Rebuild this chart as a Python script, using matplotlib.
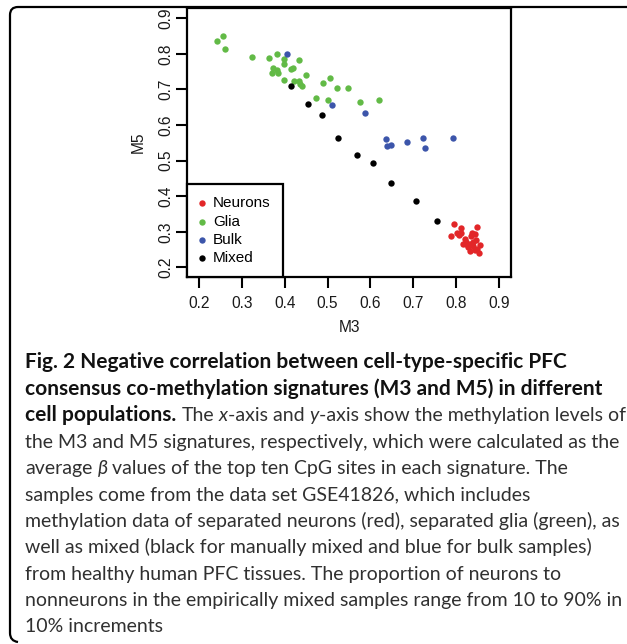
import matplotlib
matplotlib.use("Agg")

import matplotlib.pyplot as plt
from matplotlib.path import Path
from matplotlib.patches import PathPatch

# ---- data (M3, M5) ----
neurons_m3 = [0.794, 0.811, 0.849, 0.789, 0.803, 0.812, 0.806, 0.836, 0.845, 0.835,
              0.820, 0.847, 0.817, 0.824, 0.832, 0.856, 0.828, 0.840, 0.849, 0.832,
              0.853, 0.823, 0.840, 0.844]
neurons_m5 = [0.321, 0.311, 0.314, 0.289, 0.296, 0.296, 0.292, 0.298, 0.294, 0.289,
              0.280, 0.276, 0.267, 0.265, 0.267, 0.263, 0.258, 0.260, 0.251, 0.247,
              0.241, 0.270, 0.272, 0.250]

glia_m3 = [0.243, 0.257, 0.261, 0.324, 0.364, 0.381, 0.398, 0.398, 0.434, 0.373,
           0.381, 0.370, 0.384, 0.415, 0.420, 0.398, 0.422, 0.434, 0.436, 0.441,
           0.449, 0.506, 0.489, 0.523, 0.547, 0.473, 0.502, 0.575, 0.621]
glia_m5 = [0.836, 0.850, 0.815, 0.790, 0.788, 0.800, 0.786, 0.772, 0.784, 0.760,
           0.755, 0.746, 0.747, 0.757, 0.760, 0.727, 0.725, 0.725, 0.715, 0.711,
           0.741, 0.731, 0.718, 0.705, 0.704, 0.675, 0.670, 0.666, 0.670]

bulk_m3 = [0.406, 0.511, 0.587, 0.637, 0.639, 0.649, 0.685, 0.722, 0.728, 0.793]
bulk_m5 = [0.800, 0.656, 0.635, 0.561, 0.542, 0.545, 0.553, 0.564, 0.536, 0.564]

mixed_m3 = [0.415, 0.455, 0.488, 0.524, 0.569, 0.607, 0.648, 0.706, 0.756]
mixed_m5 = [0.710, 0.660, 0.628, 0.565, 0.516, 0.494, 0.438, 0.386, 0.330]

x_ticks = [0.2, 0.3, 0.4, 0.5, 0.6, 0.7, 0.8, 0.9]
y_ticks = [0.2, 0.3, 0.4, 0.5, 0.6, 0.7, 0.8, 0.9]

RED, GREEN, BLUE, BLACK = "#E22628", "#62BA46", "#3C55AA", "#000000"

W, H = 627, 644
fig = plt.figure(figsize=(W / 100, H / 100), dpi=100)
fig.patch.set_facecolor("white")

# axes box in pixel coords (left, top, right, bottom)
L, T, R, B = 187, 8, 511, 277
ax = fig.add_axes([L / W, 1 - B / H, (R - L) / W, (B - T) / H])

AX_FONT = "Liberation Sans"
DOT = 21

ax.scatter(neurons_m3, neurons_m5, s=DOT, c=RED, linewidths=0, label="Neurons", zorder=3)
ax.scatter(glia_m3, glia_m5, s=DOT, c=GREEN, linewidths=0, label="Glia", zorder=3)
ax.scatter(bulk_m3, bulk_m5, s=DOT, c=BLUE, linewidths=0, label="Bulk", zorder=3)
ax.scatter(mixed_m3, mixed_m5, s=DOT, c=BLACK, linewidths=0, label="Mixed", zorder=3)

ax.set_xlim(0.172, 0.928)
ax.set_ylim(0.173, 0.929)
ax.set_xticks(x_ticks)
ax.set_yticks(y_ticks)
ax.set_xticklabels([f"{v:.1f}" for v in x_ticks], family=AX_FONT, fontsize=11.2, color="#1a1a1a")
ax.set_yticklabels([f"{v:.1f}" for v in y_ticks], family=AX_FONT, fontsize=11.2, color="#1a1a1a",
                   rotation=90, va="center")
ax.tick_params(axis="both", length=8, width=1.5, direction="out")
ax.tick_params(axis="x", pad=6)
ax.tick_params(axis="y", pad=2)
for sp in ax.spines.values():
    sp.set_linewidth(1.6)

ax.set_xlabel("M3", family=AX_FONT, fontsize=11.2, color="#1a1a1a", labelpad=6)
ax.set_ylabel("M5", family=AX_FONT, fontsize=11.2, color="#1a1a1a", labelpad=9)

leg = ax.legend(loc="lower left", bbox_to_anchor=(0, 0), borderaxespad=0,
                fancybox=False, edgecolor="black", framealpha=1,
                prop={"family": AX_FONT, "size": 11},
                handlelength=0.3, handletextpad=0.6, borderpad=0.8,
                labelspacing=0.27, scatterpoints=1)
leg.get_frame().set_linewidth(1.6)

# ---- outer panel frame: top + left edges with rounded corners ----
def px(x, y):
    return (x, H - y)

r = 8
fx, fy0, fy1 = 10, 7, 641
verts = [px(W + 2, fy0), px(fx + r, fy0), px(fx, fy0), px(fx, fy0 + r),
         px(fx, fy1 - r), px(fx, fy1), px(fx + r, fy1 + 1)]
codes = [Path.MOVETO, Path.LINETO, Path.CURVE3, Path.CURVE3,
         Path.LINETO, Path.CURVE3, Path.CURVE3]
frame = PathPatch(Path(verts, codes), facecolor="none", edgecolor="black", lw=1.6,
                  transform=None, zorder=10)
fig.patches.append(frame)

# ---- caption ----
CAP_FONT = ["Lato", "DejaVu Sans"]
renderer = fig.canvas.get_renderer()


def text_width(s, size, **kw):
    t = fig.text(0, 0, s, fontsize=size, family=CAP_FONT, **kw)
    w = t.get_window_extent(renderer).width
    t.remove()
    return w


BODY = dict(weight="normal", color="#303030")
BOLD = dict(weight="bold", color="#111111")

body_size = 10 * 593 / text_width(
    "the M3 and M5 signatures, respectively, which were calculated as the", 10, **BODY)
bold_size = 10 * 577 / text_width(
    "consensus co-methylation signatures (M3 and M5) in different", 10, **BOLD)


def space_width(kind):
    size = bold_size if kind == "b" else body_size
    kw = BOLD if kind == "b" else BODY
    return text_width("a a", size, **kw) - text_width("aa", size, **kw)


# each run: (text, kind, extra style, space after)
caption = [
    [("Fig. 2 Negative correlation between cell-type-specific PFC", "b", {}, False)],
    [("consensus co-methylation signatures (M3 and M5) in different", "b", {}, False)],
    [("cell populations.", "b", {}, True), ("The", "n", {}, True),
     ("x", "n", {"style": "italic"}, False), ("-axis and", "n", {}, True),
     ("y", "n", {"style": "italic"}, False),
     ("-axis show the methylation levels of", "n", {}, False)],
    [("the M3 and M5 signatures, respectively, which were calculated as the", "n", {}, False)],
    [("average", "n", {}, True), ("\u03b2", "n", {"style": "italic"}, True),
     ("values of the top ten CpG sites in each signature. The", "n", {}, False)],
    [("samples come from the data set GSE41826, which includes", "n", {}, False)],
    [("methylation data of separated neurons (red), separated glia (green), as", "n", {}, False)],
    [("well as mixed (black for manually mixed and blue for bulk samples)", "n", {}, False)],
    [("from healthy human PFC tissues. The proportion of neurons to", "n", {}, False)],
    [("nonneurons in the empirically mixed samples range from 10 to 90% in", "n", {}, False)],
    [("10% increments", "n", {}, False)],
]

line_y0, line_step, text_x = 363, 26.4, 25
for i, runs in enumerate(caption):
    x = text_x
    base = H - (line_y0 + i * line_step + 5.5)
    for s, kind, extra, space_after in runs:
        kw = dict(BOLD if kind == "b" else BODY)
        kw.update(extra)
        size = bold_size if kind == "b" else body_size
        t = fig.text(x, base, s, fontsize=size, family=CAP_FONT, ha="left",
                     va="baseline", transform=None, **kw)
        x += t.get_window_extent(renderer).width
        if space_after:
            x += space_width(kind)

fig.savefig("out.png", dpi=100)
